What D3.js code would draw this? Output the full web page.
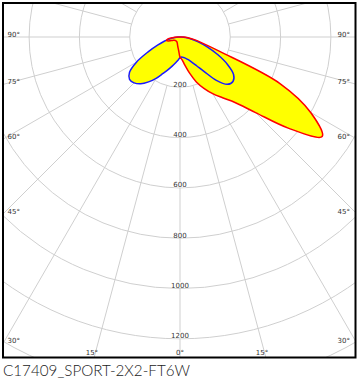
<!DOCTYPE html>
<html><head><meta charset="utf-8">
<script src="https://cdn.jsdelivr.net/npm/d3@7"></script>
<style>body{margin:0;background:#fff}svg{display:block}</style>
</head><body>
<script>
// gamma angles (deg), negative = left, positive = right
const gammaAngles = [-90,-85,-80,-75,-70,-65,-60,-55,-50,-45,-40,-35,-30,-25,-20,-15,-10,-5,0,5,10,15,20,25,30,35,40,45,50,55,60,65,70,75,80,85,90];
// C0-C180 plane (red), cd
const redValues = [10,30,50,55,45,32,26,24,22,22,22,22,24,26,30,36,44,56,80,90,115,150,190,225,260,295,340,425,565,690,600,440,170,90,55,32,15];
// C90-C270 plane (blue), cd
const blueValues = [5,20,40,65,95,140,200,245,262,258,243,218,190,160,138,120,105,93,82,80,83,88,96,110,132,168,225,266,275,260,218,165,115,75,45,22,5];
const ringValues = [200,400,600,800,1000,1200,1400];
const ringLabels = ["200","400","600","800","1000","1200"];
const spokeAngles = d3.range(0, 360, 15);
const sideAngleLabels = [90,75,60,45,30];
const bottomAngleLabels = [-15,0,15];
const title = "C17409_SPORT-2X2-FT6W";

const W = 360, H = 392;
const cx = 180, cy = 37;
const frame = {x:3, y:3, w:352.5, h:354.5};
const r = d3.scaleLinear().domain([0,1200]).range([0,301.8]);

const svg = d3.select("body").append("svg").attr("width",W).attr("height",H);
svg.append("defs").append("clipPath").attr("id","clip")
  .append("rect").attr("x",frame.x).attr("y",frame.y).attr("width",frame.w).attr("height",frame.h);

const g = svg.append("g").attr("clip-path","url(#clip)");
const c = g.append("g").attr("transform",`translate(${cx},${cy})`);

// grid rings
c.selectAll("circle.ring").data(ringValues).enter().append("circle")
  .attr("r", d=>r(d)).attr("fill","none").attr("stroke","#cfcfcf").attr("stroke-width",1);
// spokes (from first ring outward)
c.selectAll("line.spoke").data(spokeAngles).enter().append("line")
  .attr("x1", d=>r(200)*Math.sin(d*Math.PI/180)).attr("y1", d=>r(200)*Math.cos(d*Math.PI/180))
  .attr("x2", d=>600*Math.sin(d*Math.PI/180)).attr("y2", d=>600*Math.cos(d*Math.PI/180))
  .attr("stroke","#cfcfcf").attr("stroke-width",1);

const toAngle = gdeg => Math.PI - gdeg*Math.PI/180;
const line = d3.lineRadial().angle(d=>toAngle(d[0])).radius(d=>r(d[1])).curve(d3.curveCatmullRomClosed.alpha(0.5));
const redData = gammaAngles.map((a,i)=>[a, redValues[i]]);
const blueData = gammaAngles.map((a,i)=>[a, blueValues[i]]);

c.append("path").attr("d", line(redData)).attr("fill","#ffff00").attr("stroke","none");
c.append("path").attr("d", line(blueData)).attr("fill","#ffff00").attr("stroke","none");
c.append("path").attr("d", line(blueData)).attr("fill","none").attr("stroke","#1a1aff").attr("stroke-width",1.5);
c.append("path").attr("d", line(redData)).attr("fill","none").attr("stroke","#ff0000").attr("stroke-width",1.5);

// ring labels on 0° axis
const lab = c.selectAll("g.rl").data(ringLabels).enter().append("g");
lab.append("rect").attr("x", d=>-d.length*2.1).attr("y", d=>r(+d)-6.5).attr("width", d=>d.length*4.2).attr("height",6)
  .attr("fill","#fff");
lab.append("text").attr("x",0).attr("y", d=>r(+d)-0.5).attr("text-anchor","middle")
  .attr("font-family","DejaVu Sans, sans-serif").attr("font-size",7).attr("fill","#333").text(d=>d);

// side angle labels
const labelFont = {family:"DejaVu Sans, sans-serif", size:7};
sideAngleLabels.forEach(a=>{
  const yEdge = cy + (cx-frame.x)/Math.tan(a*Math.PI/180);
  svg.append("text").attr("x",7.5).attr("y",yEdge-0.5).attr("font-family",labelFont.family).attr("font-size",labelFont.size).attr("fill","#333").text(a+"°");
  svg.append("text").attr("x",350).attr("y",yEdge-0.5).attr("text-anchor","end").attr("font-family",labelFont.family).attr("font-size",labelFont.size).attr("fill","#333").text(a+"°");
});
bottomAngleLabels.forEach(a=>{
  const yb = 354.5;
  const xb = cx + (yb-cy)*Math.tan(a*Math.PI/180) - (a!==0?3:0);
  svg.append("text").attr("x",xb).attr("y",yb).attr("text-anchor","middle").attr("font-family",labelFont.family).attr("font-size",labelFont.size).attr("fill","#333").text(Math.abs(a)+"°");
});

// frame
svg.append("rect").attr("x",frame.x).attr("y",frame.y).attr("width",frame.w).attr("height",frame.h)
  .attr("fill","none").attr("stroke","#000").attr("stroke-width",2);

// title
svg.append("text").attr("x",3).attr("y",375.5).attr("font-family","Lato, 'DejaVu Sans', sans-serif").attr("font-size",16)
  .attr("font-weight",300).attr("fill","#222").attr("textLength",187).attr("lengthAdjust","spacingAndGlyphs").text(title);
</script>
</body></html>
